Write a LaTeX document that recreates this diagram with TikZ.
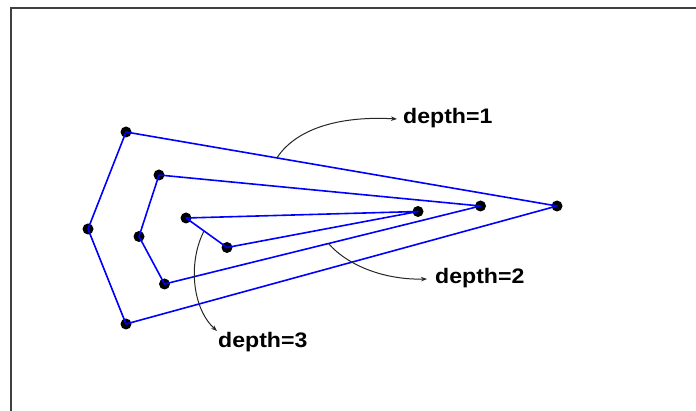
\documentclass[tikz,border=0pt]{standalone}
\usepackage{fontspec}
\setmainfont{Liberation Sans}
\usetikzlibrary{arrows.meta,calc}
\begin{document}
\begin{tikzpicture}[x=1pt,y=-1pt,
  dot/.style={circle,fill=black,inner sep=0pt,minimum size=11pt},
  poly/.style={draw=blue,line width=1.6pt,line join=round},
  callout/.style={draw=black!85,line width=1pt,-{Stealth[length=6pt,width=4.5pt]}},
  lab/.style={anchor=base west,inner sep=0pt,font=\fontsize{21}{25}\selectfont\bfseries}]
\useasboundingbox (0,0) rectangle (696,411);
\fill[white] (0,0) rectangle (696,411);
\draw[line width=2pt,black!75] (10.5,411) -- (10.5,8) -- (696,8);
% depth 1
\node[dot] (A1) at (126,132) {};
\node[dot] (A2) at (88,229) {};
\node[dot] (A3) at (126,324) {};
\node[dot] (T1) at (557,206) {};
% depth 2
\node[dot] (B1) at (159,175) {};
\node[dot] (B2) at (139,236.5) {};
\node[dot] (B3) at (164.5,284) {};
\node[dot] (T2) at (480.5,206) {};
% depth 3
\node[dot] (C1) at (186,218) {};
\node[dot] (C2) at (227,247.5) {};
\node[dot] (C3) at (418,211.5) {};
\draw[poly] (T1.center) -- (A1.center) -- (A2.center) -- (A3.center) -- cycle;
\draw[poly] (T2.center) -- (B1.center) -- (B2.center) -- (B3.center) -- cycle;
\draw[poly] (C3.center) -- (C1.center) -- (C2.center) -- cycle;
% labels
\node[lab] (L1) at (403,124) {\scalebox{1.1}[1]{depth=1}};
\node[lab] (L2) at (435,284) {\scalebox{1.1}[1]{depth=2}};
\node[lab] (L3) at (218,348) {\scalebox{1.1}[1]{depth=3}};
\coordinate (s1) at ($(A1.center)!0.35!(T1.center)$);
\coordinate (s2) at ($(B3.center)!0.519!(T2.center)$);
\coordinate (s3) at ($(C1.center)!0.44!(C2.center)$);
\coordinate (e1) at (397,119);
\coordinate (e2) at (427,279);
\coordinate (e3) at (217,331);
\draw[callout] (s1) .. controls (298,126) and (345,116) .. (e1);
\draw[callout] (s2) .. controls (348,266) and (385,280) .. (e2);
\draw[callout] (s3) .. controls (188,262) and (192,308) .. (e3);
\end{tikzpicture}
\end{document}
